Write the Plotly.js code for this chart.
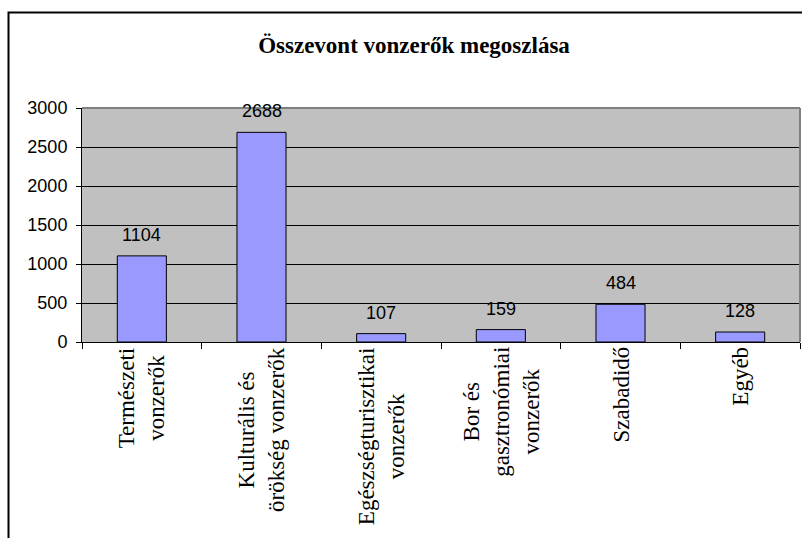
<!DOCTYPE html>
<html>
<head>
<meta charset="utf-8">
<script src="https://cdn.plot.ly/plotly-3.0.1.min.js"></script>
<style>html,body{margin:0;padding:0;background:#fff;}#chart{width:802px;height:538px;}</style>
</head>
<body>
<div id="chart"></div>
<script>
// ---- data ----
const categories = ["Természeti", "Kulturális", "Egészségturisztikai", "Bor", "Szabadidő", "Egyéb"];
const tickLabels = [
  "Természeti<br>vonzerők",
  "Kulturális és<br>örökség vonzerők",
  "Egészségturisztikai<br>vonzerők",
  "Bor és<br>gasztronómiai<br>vonzerők",
  "Szabadidő",
  "Egyéb"
];
const values = [1104, 2688, 107, 159, 484, 128];
const titleText = "Összevont vonzerők megoszlása";

// ---- layout geometry ----
const W = 802, H = 538;
const M = {l: 82, r: 2, t: 108, b: 196};
const pw = W - M.l - M.r, ph = H - M.t - M.b;
const px2x = p => (p - M.l) / pw;
const py2y = p => (H - M.b - p) / ph;

const serif = "Liberation Serif, Times New Roman, serif";
const sans = "Liberation Sans, Arial, sans-serif";

const trace = {
  type: "bar",
  x: categories,
  y: values,
  marker: {color: "#9999FF", line: {color: "#000000", width: 1}},
  hoverinfo: "none"
};

const annotations = [];
categories.forEach((c, i) => {
  annotations.push({
    x: c, y: values[i], xref: "x", yref: "y",
    text: String(values[i]), showarrow: false,
    xanchor: "center", yanchor: "middle", yshift: 21,
    font: {family: sans, size: 18, color: "#000"}
  });
  annotations.push({
    x: c, y: 0, xref: "x", yref: "paper",
    text: tickLabels[i], showarrow: false, textangle: -90,
    xanchor: "center", yanchor: "top", align: "center", yshift: -3,
    font: {family: serif, size: 23, color: "#000"}
  });
});

const layout = {
  width: W, height: H,
  margin: M,
  paper_bgcolor: "#ffffff",
  plot_bgcolor: "#C0C0C0",
  showlegend: false,
  bargap: 0.59,
  title: {
    text: "<b>" + titleText + "</b>",
    font: {family: serif, size: 23, color: "#000"},
    x: 414 / W, xref: "container", xanchor: "center",
    y: 1 - 45 / H, yref: "container", yanchor: "middle"
  },
  xaxis: {
    type: "category",
    showticklabels: false,
    ticks: "outside", tickson: "boundaries", ticklen: 6, tickcolor: "#000", tickwidth: 1,
    showline: true, linecolor: "#000", linewidth: 1,
    showgrid: false, zeroline: false, fixedrange: true
  },
  yaxis: {
    range: [0, 3000], dtick: 500, tick0: 0,
    ticks: "outside", ticklen: 5, tickcolor: "#000", tickwidth: 1,
    ticklabelstandoff: 5,
    tickfont: {family: sans, size: 18, color: "#000"},
    showline: true, linecolor: "#000", linewidth: 1,
    showgrid: true, gridcolor: "#000", gridwidth: 1,
    zeroline: false, fixedrange: true
  },
  annotations: annotations,
  shapes: [
    // plot area border (top, right)
    {type: "line", xref: "paper", yref: "paper", x0: 0, x1: 1, y0: 1, y1: 1, line: {color: "#808080", width: 2}},
    {type: "line", xref: "paper", yref: "paper", x0: 1, x1: 1, y0: 0, y1: 1, line: {color: "#808080", width: 2}},
    // chart frame
    {type: "rect", xref: "paper", yref: "paper",
     x0: px2x(8.5), x1: px2x(830), y0: py2y(560), y1: py2y(12.5),
     line: {color: "#000", width: 2}, fillcolor: "rgba(0,0,0,0)"}
  ]
};

Plotly.newPlot("chart", [trace], layout, {displayModeBar: false, staticPlot: true});
</script>
</body>
</html>
